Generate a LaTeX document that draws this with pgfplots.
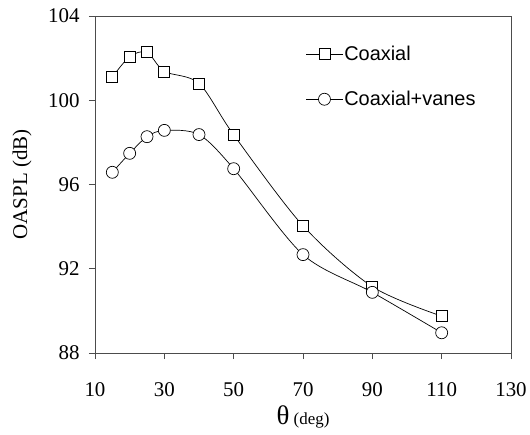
\documentclass[border=0pt]{standalone}
\usepackage{fontspec}
\setmainfont{Liberation Serif}
\newfontfamily\arial{Liberation Sans}
\usepackage{pgfplots}
\pgfplotsset{compat=1.18}
\begin{document}
\begin{tikzpicture}
\path[use as bounding box] (-95bp,-82bp) rectangle (435bp,353bp);
\begin{axis}[
  at={(0,0)}, anchor=south west, clip mode=individual,
  scale only axis, width=416bp, height=337bp,
  xmin=10, xmax=130, ymin=88, ymax=104,
  xtick={10,30,...,130}, ytick={88,92,...,104},
  tick pos=left, tick align=outside,
  major tick length=6bp,
  axis line style={black!70, line width=0.8pt},
  every tick/.style={black!70, line width=0.8pt},
  /pgf/number format/assume math mode=true,
  ticklabel style={font=\fontsize{21}{24}\selectfont},
  xticklabel style={yshift=-20bp},
  yticklabel style={xshift=-6bp},
  legend style={at={(axis description cs:0.507,0.915)}, anchor=north west,
    draw=none, fill=none, font=\arial\fontsize{20}{24}\selectfont,
    row sep=26bp, inner sep=0pt, nodes={inner sep=1.5bp}},
  legend cell align=left,
  legend image code/.code={\draw[mark repeat=2,mark phase=2] plot coordinates {(0bp,0bp) (18bp,0bp) (36bp,0bp)};},
]
\addplot[black, line width=0.7pt, smooth, tension=0.5, mark=square*, mark size=5.5bp,
  mark options={fill=white, line width=0.7pt}]
  coordinates {(15,101.1) (20,102.07) (25,102.28) (30,101.37) (40,100.8) (50,98.36) (70,94.04) (90,91.15) (110,89.75)};
\addlegendentry{Coaxial}
\addplot[black, line width=0.7pt, smooth, tension=0.5, mark=*, mark size=6bp,
  mark options={fill=white, line width=0.7pt}]
  coordinates {(15,96.58) (20,97.48) (25,98.27) (30,98.57) (40,98.37) (50,96.75) (70,92.67) (90,90.88) (110,88.96)};
\addlegendentry{Coaxial+vanes}
\node[rotate=90, font=\fontsize{21}{24}\selectfont] at ([xshift=-73bp]axis description cs:0,0.5) {OASPL (dB)};
\node[font=\fontsize{17}{20}\selectfont] at ([yshift=-64bp]axis description cs:0.5,0) {{\fontsize{27}{30}\selectfont θ} (deg)};
\end{axis}
\end{tikzpicture}
\end{document}
